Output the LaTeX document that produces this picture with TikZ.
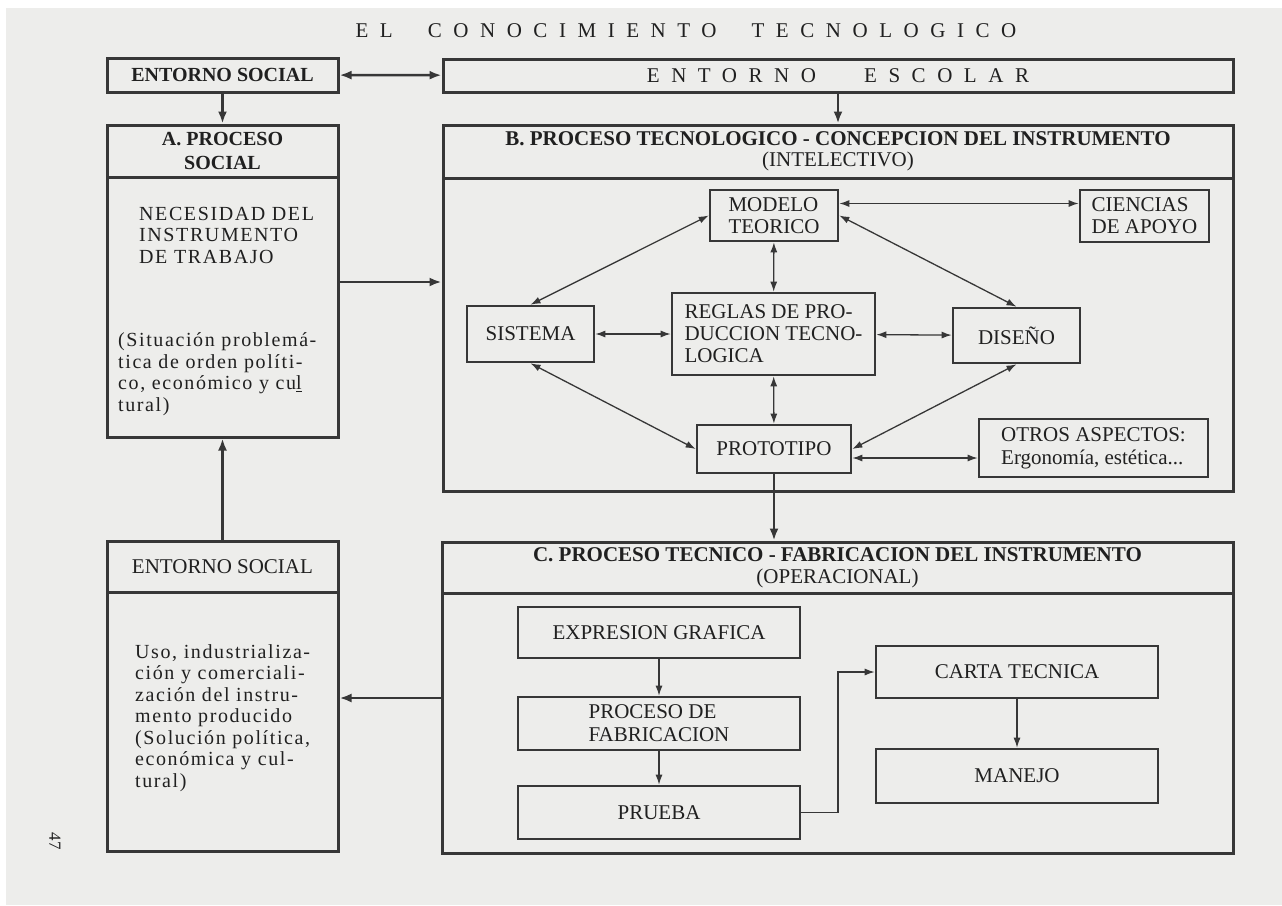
\documentclass[tikz,border=0pt]{standalone}
\usepackage{fontspec}
\setmainfont{Liberation Serif}
\newfontfamily\spacedfont[LetterSpace=55]{Liberation Serif}
\newfontfamily\trackedfont[LetterSpace=8]{Liberation Serif}
\usepackage{xcolor}
\definecolor{paper}{RGB}{237,237,235}
\definecolor{inkgrey}{RGB}{55,55,55}
\definecolor{textgrey}{RGB}{32,32,32}
\usetikzlibrary{arrows.meta, positioning, calc}

\begin{document}
\begin{tikzpicture}[x=1pt, y=-1pt,
    frame/.style={draw=inkgrey, line width=3pt, inner sep=0pt, text=textgrey},
    inbox/.style={draw=inkgrey, line width=2.6pt, inner sep=0pt, text=textgrey, align=left, font=\fontsize{21}{22}\selectfont},
    bodytext/.style={text=textgrey, align=left, anchor=west, inner sep=0pt, font=\trackedfont\fontsize{20}{21.5}\selectfont},
    big/.style={draw=inkgrey, line width=2.5pt, >={Latex[length=12pt, width=9pt]}},
    slim/.style={draw=inkgrey, line width=1.3pt, >={Latex[length=10pt, width=7pt]}}]

    \fill[white] (0,0) rectangle (1282,905);
    \fill[paper] (6,8) rectangle (1282,905);
    \useasboundingbox (0,0) rectangle (1282,905);

    \node[text=textgrey, font=\spacedfont\fontsize{21}{21}\selectfont] (titulo) at (686,31) {EL\hspace{35pt}CONOCIMIENTO\hspace{35pt}TECNOLOGICO};

    \node[frame, minimum width=231, minimum height=34, font=\bfseries\fontsize{20}{20}\selectfont] (socialtop) at (222.5,75) {ENTORNO SOCIAL};
    \node[frame, minimum width=790, minimum height=33, font=\spacedfont\fontsize{21}{21}\selectfont] (escolar) at (838,75.5) {ENTORNO\hspace{48pt}ESCOLAR\hspace{48pt}};

    \node[frame, minimum width=231, minimum height=52, align=center, font=\bfseries\fontsize{20}{24}\selectfont] (procA) at (222.5,151) {A. PROCESO\\SOCIAL};
    \node[frame, minimum width=231, minimum height=260] (cuerpoA) at (222.5,307) {};
    \node[bodytext] (necesidad) at (139,235) {NECESIDAD DEL\\INSTRUMENTO\\DE TRABAJO};
    \node[bodytext] (situacion) at (118,374) {(Situación problemá-\\tica de orden políti-\\co, económico y cu\underline{l}\\tural)};

    \node[frame, minimum width=790, minimum height=53, align=center, font=\fontsize{21}{21}\selectfont] (procB) at (838,151.5) {\textbf{B. PROCESO TECNOLOGICO - CONCEPCION DEL INSTRUMENTO}\\(INTELECTIVO)};
    \node[frame, minimum width=790, minimum height=313] (cuerpoB) at (838,334.5) {};

    \node[inbox, minimum width=128, minimum height=51] (modelo) at (774,215.5) {MODELO\\TEORICO};
    \node[inbox, minimum width=129, minimum height=52] (ciencias) at (1144.5,216) {CIENCIAS\\DE APOYO};
    \node[inbox, minimum width=127, minimum height=56] (sistema) at (530.5,334) {SISTEMA};
    \node[inbox, minimum width=203, minimum height=82] (reglas) at (773.5,334) {REGLAS DE PRO-\\DUCCION TECNO-\\LOGICA};
    \node[inbox, minimum width=127, minimum height=55] (diseno) at (1016.5,335.5) {DISEÑO};
    \node[inbox, minimum width=154, minimum height=48] (prototipo) at (774,449) {PROTOTIPO};
    \node[inbox, minimum width=229, minimum height=58, font=\fontsize{21}{23}\selectfont] (otros) at (1093.5,448) {OTROS ASPECTOS:\\Ergonomía, estética...};

    \node[frame, minimum width=231, minimum height=51, font=\fontsize{21}{21}\selectfont] (socialbajo) at (222.5,566.5) {ENTORNO SOCIAL};
    \node[frame, minimum width=231, minimum height=259] (cuerpoSocial) at (222.5,721.5) {};
    \node[bodytext] (uso) at (135,718) {Uso, industrializa-\\ción y comerciali-\\zación del instru-\\mento producido\\(Solución política,\\económica y cul-\\tural)};

    \node[frame, minimum width=791, minimum height=51, align=center, font=\fontsize{21}{22}\selectfont] (procC) at (837.5,567.5) {\textbf{C. PROCESO TECNICO - FABRICACION DEL INSTRUMENTO}\\(OPERACIONAL)};
    \node[frame, minimum width=791, minimum height=260] (cuerpoC) at (837.5,723) {};

    \node[inbox, minimum width=282, minimum height=51] (expresion) at (659,632.5) {EXPRESION GRAFICA};
    \node[inbox, minimum width=282, minimum height=53, font=\fontsize{21}{23}\selectfont] (proceso) at (659,723.5) {PROCESO DE\\FABRICACION};
    \node[inbox, minimum width=282, minimum height=53] (prueba) at (659,812.5) {PRUEBA};
    \node[inbox, minimum width=282, minimum height=52] (carta) at (1017,672) {CARTA TECNICA};
    \node[inbox, minimum width=282, minimum height=54] (manejo) at (1017,776) {MANEJO};

    \node[rotate=-90, text=textgrey, font=\fontsize{17}{17}\selectfont] (pagina) at (55,841) {47};

    \draw[big, <->] (socialtop) -- (escolar);
    \draw[big, ->] (socialtop) -- (procA);
    \draw[big, ->] (escolar) -- (procB);
    \draw[big, ->] ([yshift=25pt]cuerpoA.east) -- ([yshift=25pt]cuerpoA.east -| cuerpoB.west);
    \draw[big, ->] (prototipo) -- (prototipo |- procC.north);
    \draw[big, ->] ([yshift=25pt]cuerpoC.west) -- ([yshift=25pt]cuerpoC.west -| cuerpoSocial.east);
    \draw[big, ->] (socialbajo) -- (cuerpoA);

    \draw[slim, <->] ([yshift=12pt]modelo.east) -- ([yshift=12pt]modelo.east -| ciencias.west);
    \draw[slim, <->] (modelo) -- (reglas);
    \draw[slim, <->] (reglas) -- (prototipo);
    \draw[slim, <->] (sistema) -- (reglas);
    \draw[slim, <->] (reglas) -- (diseno);
    \draw[slim, <->] (modelo.west) -- (sistema.north);
    \draw[slim, <->] (modelo.east) -- (diseno.north);
    \draw[slim, <->] (sistema.south) -- (prototipo.west);
    \draw[slim, <->] (diseno.south) -- (prototipo.east);
    \draw[slim, <->] ([yshift=-9pt]prototipo.east) -- ([yshift=-9pt]prototipo.east -| otros.west);

    \draw[slim, ->] (expresion) -- (proceso);
    \draw[slim, ->] (proceso) -- (prueba);
    \draw[slim, ->] (prueba.east) -| ($(prueba.east)!0.5!(carta.west)$) |- (carta.west);
    \draw[slim, ->] (carta) -- (manejo);
\end{tikzpicture}
\end{document}
